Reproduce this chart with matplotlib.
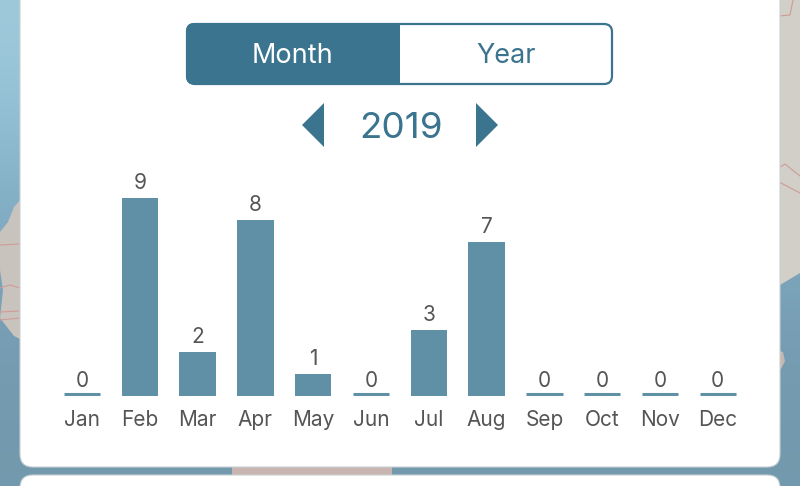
import numpy as np
import matplotlib
matplotlib.use('Agg')
import matplotlib.pyplot as plt
from matplotlib.patches import FancyBboxPatch, Polygon, Rectangle

plt.rcParams['font.family'] = ['Inter', 'DejaVu Sans']

months = ['Jan', 'Feb', 'Mar', 'Apr', 'May', 'Jun', 'Jul', 'Aug', 'Sep', 'Oct', 'Nov', 'Dec']
counts = [0, 9, 2, 8, 1, 0, 3, 7, 0, 0, 0, 0]
year_label = '2019'
toggle_labels = ['Month', 'Year']

TEAL = '#3a748e'
BAR = '#5f90a6'
TEXT = '#555555'

fig = plt.figure(figsize=(8, 4.86), dpi=100)

# screen layer, in pixels
bg = fig.add_axes([0, 0, 1, 1])
bg.set_xlim(0, 800)
bg.set_ylim(486, 0)
bg.axis('off')

sea = np.array([[0.62, 0.79, 0.86], [0.52, 0.70, 0.79], [0.47, 0.62, 0.71], [0.45, 0.60, 0.68]])
sea = sea[:, None, :]
bg.imshow(sea, extent=[0, 800, 486, 0], aspect='auto', interpolation='bicubic', zorder=0)
bg.set_xlim(0, 800)
bg.set_ylim(486, 0)

land = '#c9c3bd'
bg.add_patch(Polygon([[0, 232], [8, 222], [14, 207], [22, 198], [22, 340], [14, 336], [0, 318], [3, 290], [0, 270]],
                     fc=land, ec='none', zorder=1))
bg.add_patch(Polygon([[776, 0], [800, 0], [800, 273], [780, 285], [776, 288]], fc='#d2cec8', ec='none', zorder=1))
bg.add_patch(Polygon([[776, 350], [783, 352], [785, 361], [781, 369], [776, 370]], fc='#c4b8b2', ec='none', zorder=1))
bg.add_patch(Rectangle((232, 466), 160, 10, fc='#c9b5af', ec='none', zorder=1))
bg.plot([0, 20], [245, 244], color='#cf9c96', lw=0.8, zorder=2)
bg.plot([0, 10, 20], [288, 285, 288], color='#cf9c96', lw=0.8, zorder=2)
bg.plot([0, 20], [312, 311], color='#cf9c96', lw=0.8, zorder=2)
bg.plot([0, 20], [320, 318], color='#cf9c96', lw=0.8, zorder=2)
bg.plot([779, 785, 800], [168, 164, 176], color='#cf9c96', lw=0.8, zorder=2)
bg.plot([779, 800], [182, 193], color='#cf9c96', lw=0.8, zorder=2)
bg.plot([779, 790, 793], [16, 15, 0], color='#cf9c96', lw=0.8, zorder=2)

# cards
bg.add_patch(FancyBboxPatch((20, -40), 760, 507, boxstyle='round,pad=0,rounding_size=13',
                            fc='white', ec='#c8d0d4', lw=0.8, zorder=3))
bg.add_patch(FancyBboxPatch((20, 475), 760, 60, boxstyle='round,pad=0,rounding_size=13',
                            fc='white', ec='#c8d0d4', lw=0.8, zorder=3))

# month / year switch
bg.add_patch(FancyBboxPatch((187, 24), 425, 60, boxstyle='round,pad=0,rounding_size=8',
                            fc='white', ec=TEAL, lw=1.6, zorder=4))
left_half = FancyBboxPatch((186, 23), 300, 61, boxstyle='round,pad=0,rounding_size=8',
                           fc=TEAL, ec='none', zorder=5)
bg.add_patch(left_half)
left_half.set_clip_path(Rectangle((186, 23), 214, 61, transform=bg.transData))
bg.text(292, 56, toggle_labels[0], color='white', fontsize=19.5, ha='center', va='center', zorder=6)
bg.text(506, 56, toggle_labels[1], color=TEAL, fontsize=19.5, ha='center', va='center', zorder=6)

# year picker
bg.add_patch(Polygon([[302, 125], [324, 103], [324, 147]], fc=TEAL, ec='none', zorder=4))
bg.add_patch(Polygon([[498, 125], [476, 103], [476, 147]], fc=TEAL, ec='none', zorder=4))
bg.text(401, 128, year_label, color=TEAL, fontsize=26.5, ha='center', va='center', zorder=6)

# the chart
ax = fig.add_axes([53.1 / 800, (486 - 396) / 486, 693.6 / 800, 220 / 486])
ax.patch.set_alpha(0)
x = np.arange(len(months))
ax.bar(x, counts, width=0.63, color=BAR)
for i, c in enumerate(counts):
    if c == 0:
        ax.plot([i - 0.315, i + 0.315], [0.07, 0.07], color=BAR, lw=2.2, solid_capstyle='butt')
    ax.annotate(str(c), (i, c), xytext=(0, 3.5), textcoords='offset points', ha='center', va='bottom',
                fontsize=15, color=TEXT)
ax.set_xlim(-0.5, 11.5)
ax.set_ylim(0, 10)
ax.set_xticks(x)
ax.set_xticklabels(months, fontsize=15, color=TEXT)
ax.tick_params(axis='x', length=0, pad=10)
ax.set_yticks([])
for s in ax.spines.values():
    s.set_visible(False)

plt.savefig('out.png', dpi=100)
